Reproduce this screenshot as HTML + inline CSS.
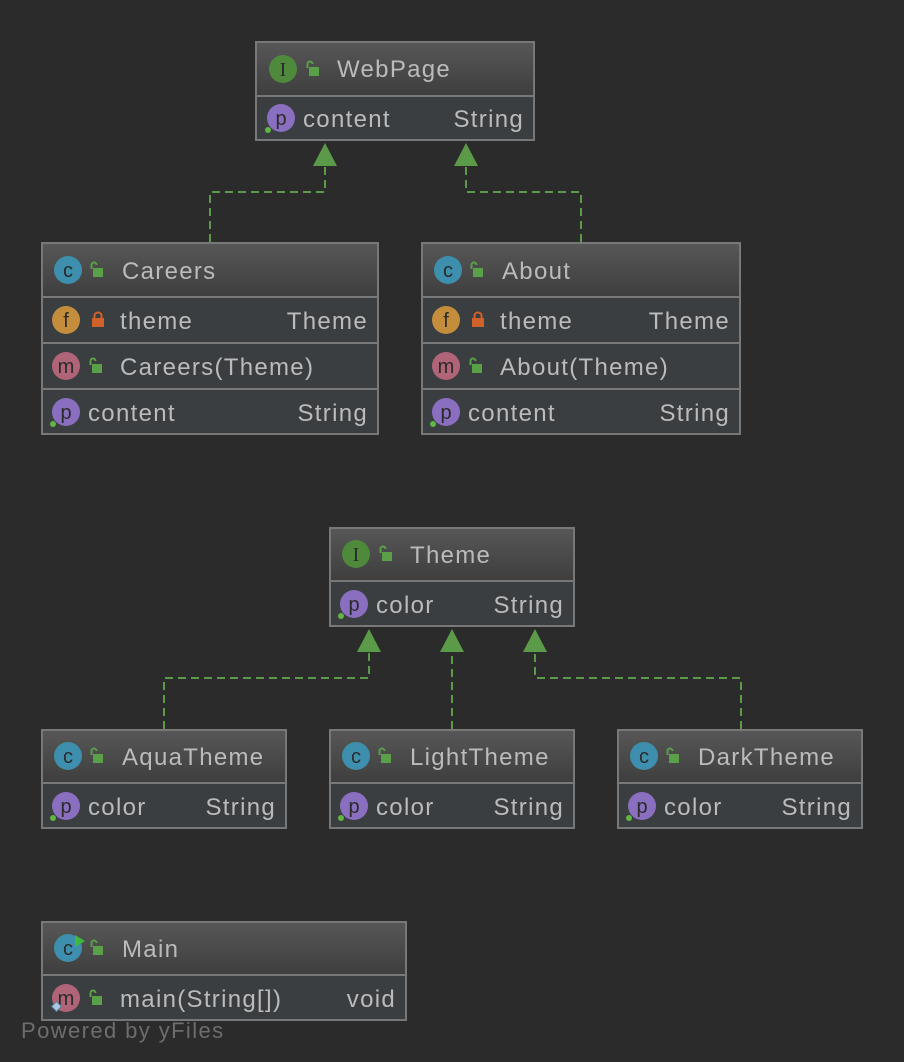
<!DOCTYPE html>
<html><head><meta charset="utf-8"><style>
html,body{margin:0;padding:0;background:#2b2b2b;}
svg{display:block;}
text{font-family:"Liberation Sans",sans-serif;font-size:24px;fill:#bbbbbb;letter-spacing:1.3px;}
.il{font-size:20px;fill:#2a2a2a;text-anchor:middle;letter-spacing:0;}
.r{text-anchor:end;}
</style></head><body>
<svg width="904" height="1062" viewBox="0 0 904 1062" xmlns="http://www.w3.org/2000/svg">
<defs>
<linearGradient id="hg" x1="0" y1="0" x2="0" y2="1"><stop offset="0" stop-color="#575757"/><stop offset="1" stop-color="#3e3e3e"/></linearGradient>
<g id="ol"><rect x="4" y="6" width="10" height="9" fill="#5aa048"/><path d="M2.5 7 V3 a2.5 2.5 0 0 1 5 0" fill="none" stroke="#5aa048" stroke-width="2"/></g>
<g id="pl"><rect x="2" y="6" width="12" height="9" fill="#d0612b"/><path d="M4.5 7 V3.5 a3.5 3 0 0 1 7 0 V7" fill="none" stroke="#d0612b" stroke-width="2"/></g>
</defs>
<rect width="904" height="1062" fill="#2b2b2b"/>

<g fill="none" stroke="#5a9a48" stroke-width="2" stroke-dasharray="8,5">
<path d="M210 242 V192 H325 V166"/>
<path d="M581 242 V192 H466 V166"/>
<path d="M164 729 V678 H369 V652"/>
<path d="M452 729 V652"/>
<path d="M741 729 V678 H535 V652"/>
</g>
<g fill="#5a9a48">
<polygon points="325,143 313,166 337,166"/>
<polygon points="466,143 454,166 478,166"/>
<polygon points="369,629 357,652 381,652"/>
<polygon points="452,629 440,652 464,652"/>
<polygon points="535,629 523,652 547,652"/>
</g>

<!-- WebPage -->
<rect x="256" y="42" width="278" height="54" fill="url(#hg)"/>
<rect x="256" y="96" width="278" height="44" fill="#3b3e41"/>
<rect x="256" y="42" width="278" height="98" fill="none" stroke="#787878" stroke-width="2"/>
<line x1="256" y1="96" x2="534" y2="96" stroke="#787878" stroke-width="2"/>
<circle cx="283" cy="69" r="14" fill="#4f8a3c"/><text x="283" y="76" class="il" style="font-family:'Liberation Serif',serif">I</text>
<use href="#ol" x="305" y="61"/>
<text x="337" y="77">WebPage</text>
<circle cx="281" cy="118" r="14" fill="#8a6fc0"/><text x="281" y="125" class="il">p</text>
<circle cx="268" cy="130" r="3" fill="#62b543"/>
<text x="303" y="127">content</text><text x="524" y="127" class="r">String</text>

<!-- Careers -->
<rect x="42" y="243" width="336" height="54" fill="url(#hg)"/>
<rect x="42" y="297" width="336" height="137" fill="#3b3e41"/>
<rect x="42" y="243" width="336" height="191" fill="none" stroke="#787878" stroke-width="2"/>
<line x1="42" y1="297" x2="378" y2="297" stroke="#787878" stroke-width="2"/>
<line x1="42" y1="343" x2="378" y2="343" stroke="#787878" stroke-width="2"/>
<line x1="42" y1="389" x2="378" y2="389" stroke="#787878" stroke-width="2"/>
<circle cx="68" cy="270" r="14" fill="#3d8fad"/><text x="68" y="277" class="il">c</text>
<use href="#ol" x="89" y="262"/>
<text x="122" y="279">Careers</text>
<circle cx="66" cy="320" r="14" fill="#c48d3c"/><text x="66" y="327" class="il">f</text>
<use href="#pl" x="90" y="312"/>
<text x="120" y="329">theme</text><text x="368" y="329" class="r">Theme</text>
<circle cx="66" cy="366" r="14" fill="#b06478"/><text x="66" y="373" class="il">m</text>
<use href="#ol" x="88" y="358"/>
<text x="120" y="375">Careers(Theme)</text>
<circle cx="66" cy="412" r="14" fill="#8a6fc0"/><text x="66" y="419" class="il">p</text>
<circle cx="53" cy="424" r="3" fill="#62b543"/>
<text x="88" y="421">content</text><text x="368" y="421" class="r">String</text>

<!-- About -->
<rect x="422" y="243" width="318" height="54" fill="url(#hg)"/>
<rect x="422" y="297" width="318" height="137" fill="#3b3e41"/>
<rect x="422" y="243" width="318" height="191" fill="none" stroke="#787878" stroke-width="2"/>
<line x1="422" y1="297" x2="740" y2="297" stroke="#787878" stroke-width="2"/>
<line x1="422" y1="343" x2="740" y2="343" stroke="#787878" stroke-width="2"/>
<line x1="422" y1="389" x2="740" y2="389" stroke="#787878" stroke-width="2"/>
<circle cx="448" cy="270" r="14" fill="#3d8fad"/><text x="448" y="277" class="il">c</text>
<use href="#ol" x="469" y="262"/>
<text x="502" y="279">About</text>
<circle cx="446" cy="320" r="14" fill="#c48d3c"/><text x="446" y="327" class="il">f</text>
<use href="#pl" x="470" y="312"/>
<text x="500" y="329">theme</text><text x="730" y="329" class="r">Theme</text>
<circle cx="446" cy="366" r="14" fill="#b06478"/><text x="446" y="373" class="il">m</text>
<use href="#ol" x="468" y="358"/>
<text x="500" y="375">About(Theme)</text>
<circle cx="446" cy="412" r="14" fill="#8a6fc0"/><text x="446" y="419" class="il">p</text>
<circle cx="433" cy="424" r="3" fill="#62b543"/>
<text x="468" y="421">content</text><text x="730" y="421" class="r">String</text>

<!-- Theme -->
<rect x="330" y="528" width="244" height="53" fill="url(#hg)"/>
<rect x="330" y="581" width="244" height="45" fill="#3b3e41"/>
<rect x="330" y="528" width="244" height="98" fill="none" stroke="#787878" stroke-width="2"/>
<line x1="330" y1="581" x2="574" y2="581" stroke="#787878" stroke-width="2"/>
<circle cx="356" cy="554" r="14" fill="#4f8a3c"/><text x="356" y="561" class="il" style="font-family:'Liberation Serif',serif">I</text>
<use href="#ol" x="378" y="546"/>
<text x="410" y="563">Theme</text>
<circle cx="354" cy="604" r="14" fill="#8a6fc0"/><text x="354" y="611" class="il">p</text>
<circle cx="341" cy="616" r="3" fill="#62b543"/>
<text x="376" y="613">color</text><text x="564" y="613" class="r">String</text>

<!-- AquaTheme -->
<rect x="42" y="730" width="244" height="53" fill="url(#hg)"/>
<rect x="42" y="783" width="244" height="45" fill="#3b3e41"/>
<rect x="42" y="730" width="244" height="98" fill="none" stroke="#787878" stroke-width="2"/>
<line x1="42" y1="783" x2="286" y2="783" stroke="#787878" stroke-width="2"/>
<circle cx="68" cy="756" r="14" fill="#3d8fad"/><text x="68" y="763" class="il">c</text>
<use href="#ol" x="89" y="748"/>
<text x="122" y="765">AquaTheme</text>
<circle cx="66" cy="806" r="14" fill="#8a6fc0"/><text x="66" y="813" class="il">p</text>
<circle cx="53" cy="818" r="3" fill="#62b543"/>
<text x="88" y="815">color</text><text x="276" y="815" class="r">String</text>

<!-- LightTheme -->
<rect x="330" y="730" width="244" height="53" fill="url(#hg)"/>
<rect x="330" y="783" width="244" height="45" fill="#3b3e41"/>
<rect x="330" y="730" width="244" height="98" fill="none" stroke="#787878" stroke-width="2"/>
<line x1="330" y1="783" x2="574" y2="783" stroke="#787878" stroke-width="2"/>
<circle cx="356" cy="756" r="14" fill="#3d8fad"/><text x="356" y="763" class="il">c</text>
<use href="#ol" x="377" y="748"/>
<text x="410" y="765">LightTheme</text>
<circle cx="354" cy="806" r="14" fill="#8a6fc0"/><text x="354" y="813" class="il">p</text>
<circle cx="341" cy="818" r="3" fill="#62b543"/>
<text x="376" y="815">color</text><text x="564" y="815" class="r">String</text>

<!-- DarkTheme -->
<rect x="618" y="730" width="244" height="53" fill="url(#hg)"/>
<rect x="618" y="783" width="244" height="45" fill="#3b3e41"/>
<rect x="618" y="730" width="244" height="98" fill="none" stroke="#787878" stroke-width="2"/>
<line x1="618" y1="783" x2="862" y2="783" stroke="#787878" stroke-width="2"/>
<circle cx="644" cy="756" r="14" fill="#3d8fad"/><text x="644" y="763" class="il">c</text>
<use href="#ol" x="665" y="748"/>
<text x="698" y="765">DarkTheme</text>
<circle cx="642" cy="806" r="14" fill="#8a6fc0"/><text x="642" y="813" class="il">p</text>
<circle cx="629" cy="818" r="3" fill="#62b543"/>
<text x="664" y="815">color</text><text x="852" y="815" class="r">String</text>

<!-- Main -->
<rect x="42" y="922" width="364" height="53" fill="url(#hg)"/>
<rect x="42" y="975" width="364" height="45" fill="#3b3e41"/>
<rect x="42" y="922" width="364" height="98" fill="none" stroke="#787878" stroke-width="2"/>
<line x1="42" y1="975" x2="406" y2="975" stroke="#787878" stroke-width="2"/>
<circle cx="68" cy="948" r="14" fill="#3d8fad"/><text x="68" y="955" class="il">c</text>
<polygon points="75,935 85,941 75,947" fill="#3fb83f"/>
<use href="#ol" x="89" y="940"/>
<text x="122" y="957">Main</text>
<circle cx="66" cy="998" r="14" fill="#b06478"/><text x="66" y="1005" class="il">m</text>
<rect x="53" y="1003" width="7" height="7" transform="rotate(45 56.5 1006.5)" fill="#a9c6e0" stroke="#5b7c99" stroke-width="1"/>
<use href="#ol" x="88" y="990"/>
<text x="120" y="1007">main(String[])</text><text x="396" y="1007" class="r">void</text>

<text x="21" y="1038" style="fill:#6d6d6d;font-size:22px;letter-spacing:1.4px">Powered by yFiles</text>
</svg>
</body></html>
